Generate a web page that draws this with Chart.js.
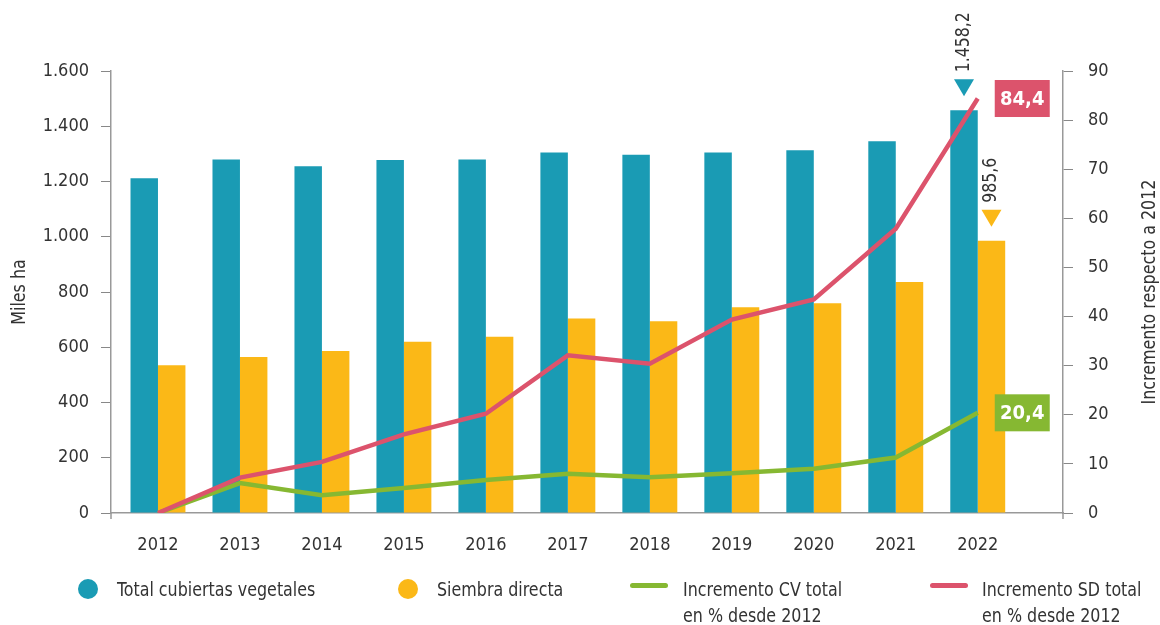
<!DOCTYPE html>
<html><head><meta charset="utf-8">
<script src="https://cdn.jsdelivr.net/npm/chart.js@4"></script>
<style>
html,body{margin:0;padding:0;background:#fff;}
#wrap{position:relative;width:1160px;height:625px;overflow:hidden;}
canvas{position:absolute;left:0;top:0;}
.leg{position:absolute;font-family:'Liberation Sans Narrow','DejaVu Sans Condensed',sans-serif;font-size:19px;color:#333;line-height:26px;white-space:nowrap;transform:scaleX(0.93);transform-origin:0 0;}
.dot{position:absolute;width:20px;height:20px;border-radius:50%;}
.bar{position:absolute;width:38px;height:5px;border-radius:3px;}
</style></head><body>
<div id="wrap">
<canvas id="c" width="1160" height="625"></canvas>
<div class="dot" style="left:78px;top:579px;background:#1a9bb4"></div>
<div class="leg" style="left:117px;top:576px">Total cubiertas vegetales</div>
<div class="dot" style="left:398px;top:579px;background:#fbb817"></div>
<div class="leg" style="left:437px;top:576px">Siembra directa</div>
<div class="bar" style="left:630px;top:583px;background:#86b832"></div>
<div class="leg" style="left:683px;top:576px">Incremento CV total<br>en % desde 2012</div>
<div class="bar" style="left:930px;top:583px;background:#dc536c"></div>
<div class="leg" style="left:982px;top:576px">Incremento SD total<br>en % desde 2012</div>
</div>
<script>
const years = ['2012','2013','2014','2015','2016','2017','2018','2019','2020','2021','2022'];
const cubiertas = [1212,1280,1255,1278,1280,1305,1297,1305,1313,1346,1458.2];
const siembra = [534.5,565,586,620,638,704,694,745,759,836,985.6];
const incCV = [0,6.1,3.6,5.1,6.7,8.0,7.3,8.1,9.0,11.3,20.4];
const incSD = [0,7.2,10.4,16.0,20.2,32.1,30.4,39.4,43.5,57.9,84.4];
const leftTicks = ['0','200','400','600','800','1.000','1.200','1.400','1.600'];
const rightTicks = ['0','10','20','30','40','50','60','70','80','90'];
const leftTitle = 'Miles ha';
const rightTitle = 'Incremento respecto a 2012';

const TEAL='#1a9bb4', ORANGE='#fbb817', GREEN='#86b832', PINK='#dc536c';
const FONT = "'Liberation Sans Narrow','DejaVu Sans Condensed',sans-serif";
const TXT = '#333';

function fmt(v){
  const parts = v.toFixed(1).split('.');
  const int = parts[0].replace(/\B(?=(\d{3})+(?!\d))/g,'.');
  return int + ',' + parts[1];
}
const xy = arr => arr.map((v,i)=>({x:i,y:v}));

const annot = {
  id:'annot',
  afterDatasetsDraw(chart){
    const ctx = chart.ctx;
    const ca = chart.chartArea;
    ctx.save();
    // small axis extensions below baseline
    ctx.strokeStyle = '#999'; ctx.lineWidth = 1.5;
    [ca.left, ca.right].forEach(x=>{ ctx.beginPath(); ctx.moveTo(x, ca.bottom); ctx.lineTo(x, ca.bottom+6); ctx.stroke(); });
    ctx.font = '19px ' + FONT;
    ctx.fillStyle = TXT;
    // axis titles
    [[20, leftTitle],[1150, rightTitle]].forEach(([x,t])=>{
      ctx.save(); ctx.translate(x,(ca.top+ca.bottom)/2); ctx.rotate(-Math.PI/2); ctx.scale(0.93,1);
      ctx.textAlign='center'; ctx.textBaseline='middle'; ctx.fillText(t,0,0); ctx.restore();
    });
    // bar annotations
    const last = years.length-1;
    [[0,TEAL,cubiertas[last]],[1,ORANGE,siembra[last]]].forEach(([di,col,val])=>{
      const b = chart.getDatasetMeta(di).data[last];
      const ty = b.y - 14;
      ctx.fillStyle = col;
      ctx.beginPath(); ctx.moveTo(b.x-10, ty-17); ctx.lineTo(b.x+10, ty-17); ctx.lineTo(b.x, ty); ctx.closePath(); ctx.fill();
      ctx.save(); ctx.translate(b.x, ty-17-7); ctx.rotate(-Math.PI/2); ctx.scale(0.92,1);
      ctx.fillStyle = TXT; ctx.textAlign='left'; ctx.textBaseline='middle';
      ctx.fillText(fmt(val),0,0); ctx.restore();
    });
    // line end boxes
    [[2,GREEN,incCV[last]],[3,PINK,incSD[last]]].forEach(([di,col,val])=>{
      const p = chart.getDatasetMeta(di).data[last];
      const bx = p.x + 17, by = p.y - 18.5;
      ctx.fillStyle = col; ctx.fillRect(bx, by, 55, 37);
      ctx.fillStyle = '#fff'; ctx.font = 'bold 20px ' + FONT;
      ctx.textAlign='center'; ctx.textBaseline='middle';
      ctx.fillText(val.toFixed(1).replace('.',','), bx+27.5, by+19.5);
    });
    ctx.restore();
  }
};

new Chart(document.getElementById('c'), {
  data:{
    datasets:[
      {type:'bar', label:'Total cubiertas vegetales', data:xy(cubiertas), backgroundColor:TEAL, yAxisID:'yL', order:3, categoryPercentage:0.67, barPercentage:1},
      {type:'bar', label:'Siembra directa', data:xy(siembra), backgroundColor:ORANGE, yAxisID:'yL', order:3, categoryPercentage:0.67, barPercentage:1},
      {type:'line', label:'Incremento CV total en % desde 2012', data:xy(incCV), borderColor:GREEN, borderWidth:4.5, pointRadius:0, tension:0, yAxisID:'yR', order:1},
      {type:'line', label:'Incremento SD total en % desde 2012', data:xy(incSD), borderColor:PINK, borderWidth:4.5, pointRadius:0, tension:0, yAxisID:'yR', order:0}
    ]
  },
  options:{
    responsive:false, animation:false,
    layout:{padding:{top:71,left:0,right:0,bottom:0}},
    plugins:{legend:{display:false}, tooltip:{enabled:false}},
    scales:{
      x:{type:'linear', min:-0.573, max:11.04, offset:false,
        afterBuildTicks(s){ s.ticks = years.map((_,i)=>({value:i})); },
        afterFit(s){ s.height = 112; },
        grid:{display:false, drawTicks:false},
        border:{display:true, color:'#999', width:1.5},
        ticks:{callback:(v)=>years[v], font:{family:FONT,size:18}, color:TXT, padding:22, maxRotation:0, autoSkip:false}
      },
      yL:{type:'linear', position:'left', min:0, max:1600,
        afterBuildTicks(s){ s.ticks = leftTicks.map((_,i)=>({value:i*200})); },
        afterFit(s){ s.width = 111; },
        grid:{drawOnChartArea:false, drawTicks:true, tickLength:10, color:'#888'},
        border:{display:true, color:'#999', width:1.5},
        ticks:{callback:(v,i)=>leftTicks[i], font:{family:FONT,size:18}, color:TXT, padding:12}
      },
      yR:{type:'linear', position:'right', min:0, max:90,
        afterBuildTicks(s){ s.ticks = rightTicks.map((_,i)=>({value:i*10})); },
        afterFit(s){ s.width = 97; },
        grid:{drawOnChartArea:false, drawTicks:true, tickLength:10, color:'#888'},
        border:{display:true, color:'#999', width:1.5},
        ticks:{callback:(v,i)=>rightTicks[i], font:{family:FONT,size:18}, color:TXT, padding:15}
      }
    }
  },
  plugins:[annot]
});
</script>
</body></html>
